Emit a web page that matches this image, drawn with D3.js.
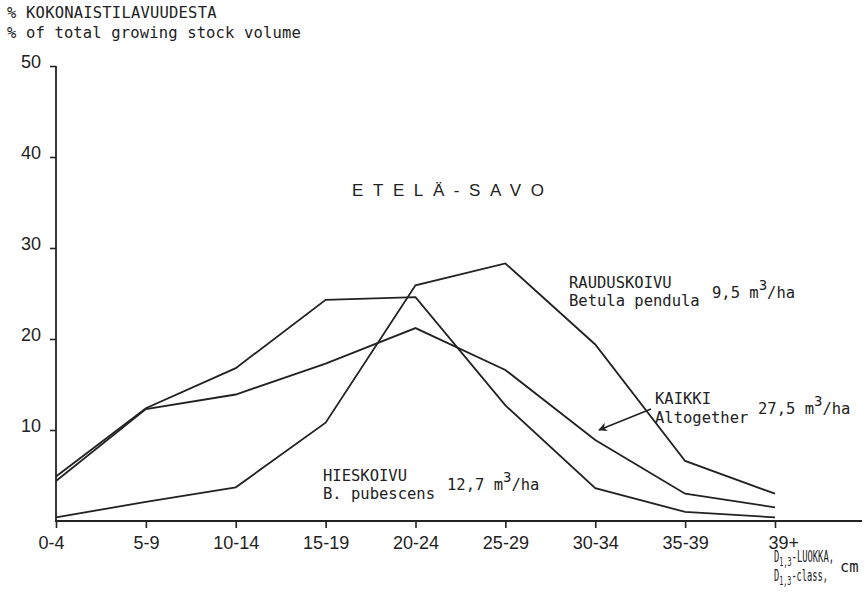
<!DOCTYPE html>
<html>
<head>
<meta charset="utf-8">
<script src="https://cdn.jsdelivr.net/npm/d3@7"></script>
<style>
  html, body { margin: 0; padding: 0; background: #fff; }
  svg { display: block; }
  .mono { font-family: "DejaVu Sans Mono", "Liberation Mono", monospace; font-size: 15.5px; fill: #222; }
  .tick text { font-family: "Liberation Sans", Arial, sans-serif; font-size: 18px; fill: #222; }
</style>
</head>
<body>
<svg id="chart" width="865" height="594"></svg>
<script>
// Diameter classes (cm) and share of total growing stock volume (%)
const categories = ["0-4", "5-9", "10-14", "15-19", "20-24", "25-29", "30-34", "35-39", "39+"];
const pendula   = [0.4, 2.1, 3.7, 10.8, 25.9, 28.3, 19.4, 6.6, 3.0];   // Rauduskoivu
const pubescens = [4.9, 12.4, 16.8, 24.3, 24.6, 12.7, 3.6, 1.0, 0.4];  // Hieskoivu
const altogether = [4.4, 12.3, 13.9, 17.3, 21.2, 16.6, 8.9, 3.0, 1.5]; // Kaikki
const yTicks = [10, 20, 30, 40, 50];

const svg = d3.select("#chart");
const ink = "#222";

const x = d3.scalePoint().domain(categories).range([56, 775]);
const y = d3.scaleLinear().domain([0, 50]).range([521, 66]);

// Y axis
const yAxis = d3.axisLeft(y).tickValues(yTicks).tickSize(6).tickSizeOuter(0).tickPadding(9);
const gy = svg.append("g").attr("transform", "translate(56,0)").call(yAxis)
  .attr("font-size", 18).attr("font-family", "Liberation Sans, Arial, sans-serif");
gy.select(".domain").remove();
gy.selectAll(".tick line").attr("stroke", ink).attr("stroke-width", 1.6);
gy.selectAll(".tick text").attr("dy", "0.1em");
svg.append("line")
  .attr("x1", 56).attr("x2", 56)
  .attr("y1", y(50)).attr("y2", y(0))
  .attr("stroke", ink).attr("stroke-width", 1.8);

// X axis
const xAxis = d3.axisBottom(x).tickSize(7).tickSizeOuter(0).tickPadding(5);
const gx = svg.append("g").attr("transform", `translate(0,${y(0)})`).call(xAxis)
  .attr("font-size", 18).attr("font-family", "Liberation Sans, Arial, sans-serif");
gx.select(".domain").remove();
gx.selectAll(".tick line").attr("stroke", ink).attr("stroke-width", 1.6);
gx.selectAll(".tick text")
  .attr("dy", "0.9em")
  .attr("text-anchor", d => d === "39+" ? "start" : "middle")
  .attr("dx", d => d === "39+" ? -7 : (d === "0-4" ? -5 : 0));
svg.append("line")
  .attr("x1", 55).attr("x2", 862)
  .attr("y1", y(0)).attr("y2", y(0))
  .attr("stroke", ink).attr("stroke-width", 1.8);

// Series lines
const line = d3.line().x((d, i) => x(categories[i])).y(d => y(d));
[pendula, pubescens, altogether].forEach(s => {
  svg.append("path")
    .attr("d", line(s))
    .attr("fill", "none")
    .attr("stroke", ink)
    .attr("stroke-width", 1.8)
    .attr("stroke-linejoin", "miter");
});

// Header
svg.append("text").attr("class", "mono").attr("x", 7).attr("y", 18)
  .attr("font-size", 15).attr("letter-spacing", 0.2).text("% KOKONAISTILAVUUDESTA");
svg.append("text").attr("class", "mono").attr("x", 7).attr("y", 38)
  .attr("letter-spacing", 0.15).text("% of total growing stock volume");

// Region title
svg.append("text")
  .attr("x", 352).attr("y", 196)
  .attr("font-family", "Liberation Sans, Arial, sans-serif")
  .attr("font-size", 17).attr("letter-spacing", 9.6).attr("fill", ink)
  .text("ETELÄ-SAVO");

// Series labels with volume per hectare
function volume(xp, yp, num) {
  const t = svg.append("text").attr("class", "mono").attr("x", xp).attr("y", yp);
  t.append("tspan").text(num + " m");
  t.append("tspan").attr("dy", -8).attr("font-size", 14).text("3");
  t.append("tspan").attr("dy", 8).text("/ha");
}
svg.append("text").attr("class", "mono").attr("x", 569).attr("y", 288).text("RAUDUSKOIVU");
svg.append("text").attr("class", "mono").attr("x", 569).attr("y", 306).text("Betula pendula");
volume(712, 298, "9,5");

svg.append("text").attr("class", "mono").attr("x", 655).attr("y", 404).text("KAIKKI");
svg.append("text").attr("class", "mono").attr("x", 655).attr("y", 423).text("Altogether");
volume(758, 414, "27,5");

svg.append("text").attr("class", "mono").attr("x", 323).attr("y", 481).text("HIESKOIVU");
svg.append("text").attr("class", "mono").attr("x", 323).attr("y", 499).text("B. pubescens");
volume(447, 490, "12,7");

// Arrow pointing to the combined curve
svg.append("defs").append("marker")
  .attr("id", "arrow").attr("viewBox", "0 0 10 10")
  .attr("refX", 9).attr("refY", 5)
  .attr("markerWidth", 9).attr("markerHeight", 9)
  .attr("markerUnits", "userSpaceOnUse")
  .attr("orient", "auto")
  .append("path").attr("d", "M0,0 L10,5 L0,10 L3,5 Z").attr("fill", ink);
svg.append("line")
  .attr("x1", 651).attr("y1", 409).attr("x2", 599).attr("y2", 430)
  .attr("stroke", ink).attr("stroke-width", 1.6)
  .attr("marker-end", "url(#arrow)");

// X axis title, condensed into the space left of "cm"
function dClass(yp, rest, width) {
  const t = svg.append("text").attr("class", "mono").attr("x", 774).attr("y", yp)
    .attr("font-size", 15.5)
    .attr("textLength", width).attr("lengthAdjust", "spacingAndGlyphs");
  t.append("tspan").text("D");
  t.append("tspan").attr("dy", 4).attr("font-size", 12).text("1,3");
  t.append("tspan").attr("dy", -4).text(rest);
}
dClass(562, "-LUOKKA,", 60);
dClass(581, "-class,", 54);
svg.append("text").attr("class", "mono").attr("x", 840).attr("y", 572)
  .attr("font-size", 15).text("cm");
</script>
</body>
</html>
